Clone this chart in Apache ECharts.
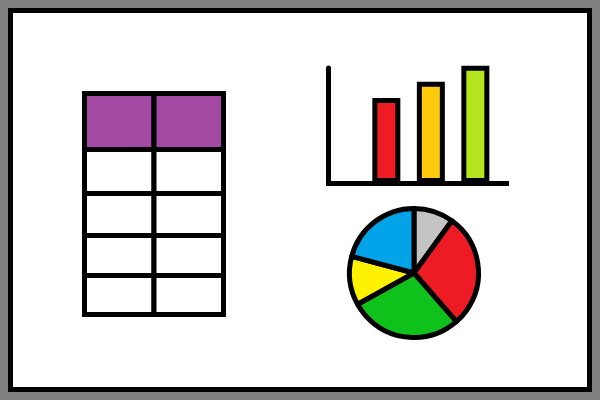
<!DOCTYPE html>
<html>
<head>
<meta charset="utf-8">
<script src="https://cdn.jsdelivr.net/npm/echarts@6/dist/echarts.min.js"></script>
<style>
html,body{margin:0;padding:0;background:#7f7f7f;}
#c{width:600px;height:400px;}
</style>
</head>
<body>
<div id="c"></div>
<script>
// ---- data ----
const barCategories = ['A', 'B', 'C'];
const barValues = [74, 88, 102];
const barColors = ['#ED1C24', '#FFC90E', '#B5E61D'];

const pieNames = ['Gray', 'Red', 'Green', 'Yellow', 'Blue'];
const pieValues = [36, 103, 102, 44, 75];
const pieColors = ['#C3C3C3', '#ED1C24', '#0EC21B', '#FFF200', '#00A2E8'];

const tableColumns = ['Col 1', 'Col 2'];
const tableRowWeights = [56, 44, 42, 40, 39];
const tableHeaderRows = 1;

// ---- build ----
const tableCells = [];
let acc = 0;
const totalRows = tableRowWeights.reduce((a, b) => a + b, 0);
tableRowWeights.forEach((h, r) => {
  tableColumns.forEach((c, ci) => {
    tableCells.push([ci, acc, acc + h, r < tableHeaderRows ? 1 : 0]);
  });
  acc += h;
});

const chart = echarts.init(document.getElementById('c'), null, {renderer: 'canvas'});
chart.setOption({
  animation: false,
  backgroundColor: '#7F7F7F',
  graphic: [{
    type: 'rect', z: -10,
    shape: {x: 10.5, y: 10.5, width: 579, height: 379},
    style: {fill: '#FFFFFF', stroke: '#000000', lineWidth: 5}
  }],
  grid: [
    {left: 328.5, top: 68, width: 178, height: 115},
    {left: 84.5, top: 93.5, width: 139, height: 221}
  ],
  xAxis: [
    {gridIndex: 0, type: 'value', min: -0.3, max: 3.7,
     axisLine: {show: true, onZero: false, lineStyle: {color: '#000', width: 5, cap: 'square'}},
     axisTick: {show: false}, axisLabel: {show: false}, splitLine: {show: false}},
    {gridIndex: 1, type: 'value', min: 0, max: tableColumns.length, show: false}
  ],
  yAxis: [
    {gridIndex: 0, type: 'value', min: 0, max: 100,
     axisLine: {show: true, onZero: false, lineStyle: {color: '#000', width: 5}},
     axisTick: {show: false}, axisLabel: {show: false}, splitLine: {show: false}},
    {gridIndex: 1, type: 'value', min: 0, max: totalRows, inverse: true, show: false}
  ],
  series: [
    {
      type: 'bar', xAxisIndex: 0, yAxisIndex: 0, barWidth: 28, clip: false, z: 1,
      data: barValues.map((v, i) => ({
        name: barCategories[i], value: [i + 1, v],
        itemStyle: {color: barColors[i], borderColor: '#000', borderWidth: 5}
      })),
      emphasis: {disabled: true}
    },
    {
      type: 'pie', center: [414, 273], radius: 64.5, startAngle: 90, clockwise: true,
      label: {show: false}, labelLine: {show: false}, emphasis: {disabled: true},
      itemStyle: {borderColor: '#000', borderWidth: 5},
      data: pieValues.map((v, i) => ({name: pieNames[i], value: v, itemStyle: {color: pieColors[i]}}))
    },
    {
      type: 'custom', xAxisIndex: 1, yAxisIndex: 1, clip: false,
      data: tableCells,
      renderItem: function (params, api) {
        const c = api.value(0), r0 = api.value(1), r1 = api.value(2), hdr = api.value(3);
        const p0 = api.coord([c, r0]);
        const p1 = api.coord([c + 1, r1]);
        return {
          type: 'rect',
          shape: {x: p0[0], y: p0[1], width: p1[0] - p0[0], height: p1[1] - p0[1]},
          style: {fill: hdr ? '#A349A4' : '#FFFFFF', stroke: '#000', lineWidth: 5}
        };
      }
    }
  ]
});
</script>
</body>
</html>
